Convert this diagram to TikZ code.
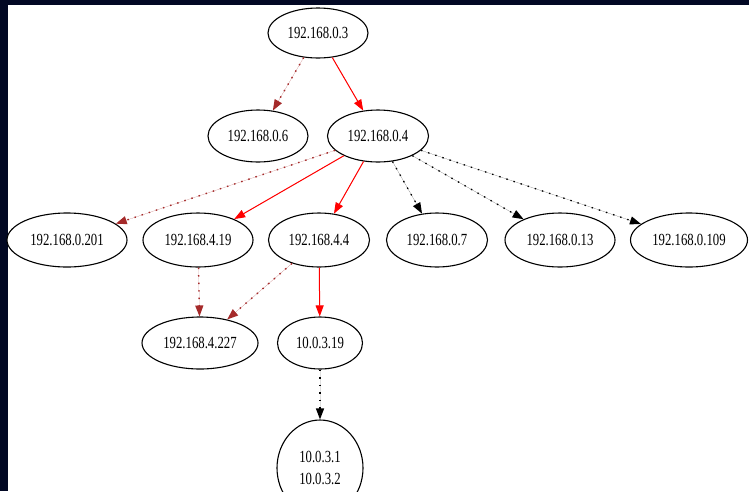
\documentclass[tikz,border=0pt]{standalone}
\usepackage{fontspec}
\newfontfamily\gvfont[FakeStretch=0.75]{Liberation Serif}
\usetikzlibrary{shapes.geometric,arrows.meta}
\definecolor{bgnavy}{RGB}{2,8,36}
\definecolor{gvbrown}{HTML}{A52A2A}
\definecolor{gvred}{HTML}{FF0000}
\begin{document}
\begin{tikzpicture}[x=1pt,y=-1pt,
  host/.style={ellipse,draw=black,line width=1.1pt,inner sep=0pt,fill=white,
    align=center,font=\gvfont\fontsize{17}{22}\selectfont},
  tip/.style={-{Triangle[length=11pt,width=8pt]}},
  redline/.style={tip,draw=gvred,fill=gvred,line width=1pt},
  brownline/.style={tip,draw=gvbrown,fill=gvbrown,line width=1.4pt,dash pattern=on 1.5pt off 6pt},
  blackline/.style={tip,draw=black,fill=black,line width=1.3pt,dash pattern=on 1.5pt off 6pt}]
\useasboundingbox (0,0) rectangle (749,491);
\fill[bgnavy] (0,0) rectangle (749,491);
\fill[white] (8,5) rectangle (749,491);

\node[host,minimum width=100pt,minimum height=50pt] (n03) at (318,33) {192.168.0.3};
\node[host,minimum width=100pt,minimum height=52pt] (n06) at (258,136) {192.168.0.6};
\node[host,minimum width=101pt,minimum height=52pt] (n04) at (378,136) {192.168.0.4};
\node[host,minimum width=120pt,minimum height=54pt] (n201) at (67,240) {192.168.0.201};
\node[host,minimum width=110pt,minimum height=54pt] (n419) at (198,240) {192.168.4.19};
\node[host,minimum width=101pt,minimum height=54pt] (n44) at (319,240) {192.168.4.4};
\node[host,minimum width=101pt,minimum height=54pt] (n07) at (437,240) {192.168.0.7};
\node[host,minimum width=110pt,minimum height=54pt] (n013) at (560,240) {192.168.0.13};
\node[host,minimum width=117pt,minimum height=54pt] (n0109) at (689,240) {192.168.0.109};
\node[host,minimum width=116pt,minimum height=52pt] (n4227) at (200,343) {192.168.4.227};
\node[host,minimum width=85pt,minimum height=52pt] (n1019) at (320,343) {10.0.3.19};
\node[host,minimum width=86pt,minimum height=96pt] (nlast) at (320,468) {10.0.3.1\\10.0.3.2};

\draw[brownline] (n03) -- (n06);
\draw[redline] (n03) -- (n04);
\draw[brownline] (n04) -- (n201);
\draw[redline] (n04) -- (n419);
\draw[redline] (n04) -- (n44);
\draw[blackline] (n04) -- (n07);
\draw[blackline] (n04) -- (n013);
\draw[blackline] (n04) -- (n0109);
\draw[brownline] (n419) -- (n4227);
\draw[brownline] (n44) -- (n4227);
\draw[redline] (n44) -- (n1019);
\draw[blackline] (n1019) -- (nlast);
\end{tikzpicture}
\end{document}
